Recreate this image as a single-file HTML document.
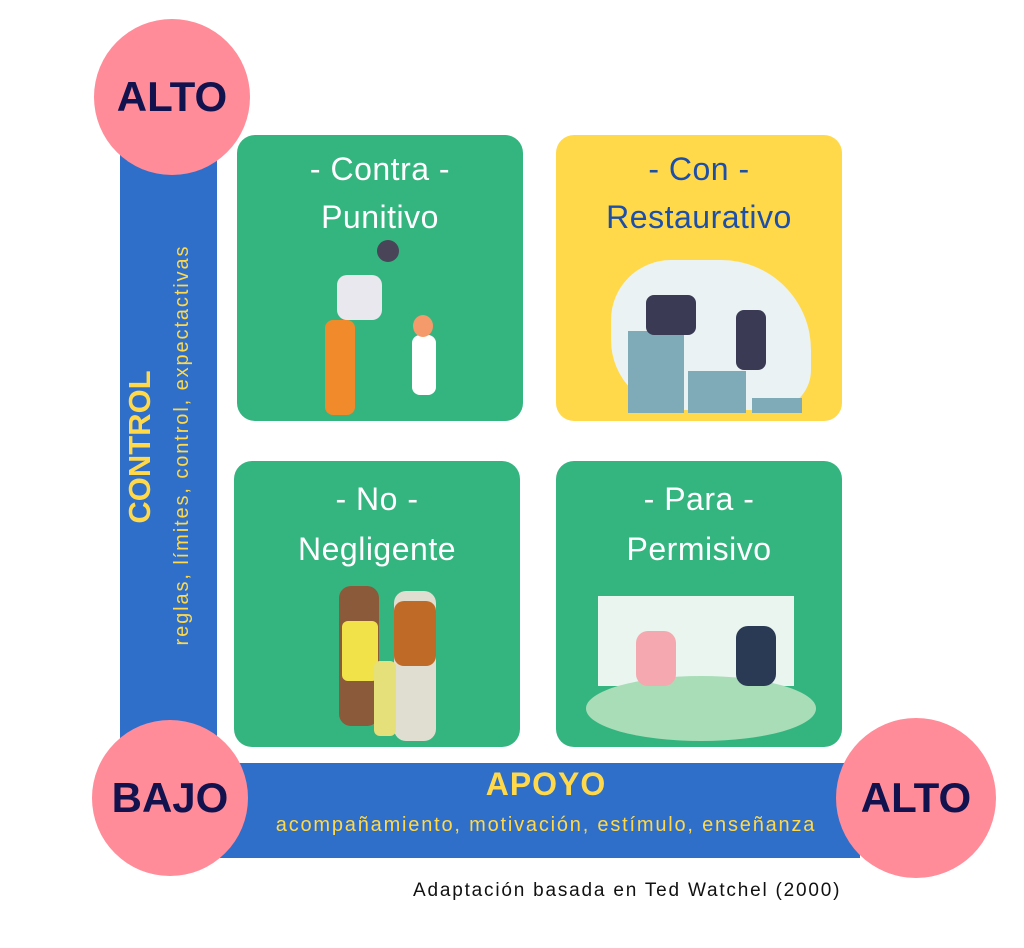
<!DOCTYPE html>
<html><head><meta charset="utf-8"><style>
body{margin:0;width:1024px;height:948px;background:#fff;position:relative;overflow:hidden;font-family:"Liberation Sans",sans-serif}
.a{position:absolute}
.box{position:absolute;width:286px;height:286px;border-radius:18px;background:#34B57F}
.t{position:absolute;left:0;width:100%;text-align:center;font-size:32px;color:#fff;letter-spacing:0.5px}
.circ{position:absolute;width:156px;height:156px;border-radius:50%;background:#FF8C98;color:#12124F;font-weight:bold;font-size:42px;text-align:center;line-height:156px}
</style></head><body>
<div class="a" style="left:120px;top:150px;width:97px;height:615px;background:#2F6FC9"></div>
<div class="a" style="left:220px;top:763px;width:640px;height:95px;background:#2F6FC9"></div>

<div class="box" style="left:237px;top:135px">
 <div class="t" style="top:16px">- Contra -</div><div class="t" style="top:64px">Punitivo</div>
 <div class="a" style="left:140px;top:105px;width:22px;height:22px;border-radius:50%;background:#4a4458"></div>
 <div class="a" style="left:100px;top:140px;width:45px;height:45px;background:#e8e8ee;border-radius:10px"></div>
 <div class="a" style="left:88px;top:185px;width:30px;height:95px;background:#F08A2A;border-radius:8px"></div>
 <div class="a" style="left:175px;top:200px;width:24px;height:60px;background:#fff;border-radius:8px"></div>
 <div class="a" style="left:176px;top:180px;width:20px;height:22px;background:#F59A6A;border-radius:50%"></div>
</div>
<div class="box" style="left:556px;top:135px;background:#FFD94A">
 <div class="t" style="top:16px;color:#1E4FA8">- Con -</div><div class="t" style="top:64px;color:#1E4FA8">Restaurativo</div>
 <div class="a" style="left:55px;top:125px;width:200px;height:150px;background:#EAF2F4;border-radius:60px 90px 40px 70px"></div>
 <div class="a" style="left:72px;top:196px;width:56px;height:82px;background:#7FAAB8"></div>
 <div class="a" style="left:132px;top:236px;width:58px;height:42px;background:#7FAAB8"></div>
 <div class="a" style="left:196px;top:263px;width:50px;height:15px;background:#7FAAB8"></div>
 <div class="a" style="left:90px;top:160px;width:50px;height:40px;background:#3a3a55;border-radius:8px"></div>
 <div class="a" style="left:180px;top:175px;width:30px;height:60px;background:#3a3a55;border-radius:8px"></div>
</div>
<div class="box" style="left:234px;top:461px">
 <div class="t" style="top:20px">- No -</div><div class="t" style="top:70px">Negligente</div>
 <div class="a" style="left:105px;top:125px;width:40px;height:140px;background:#8B5A3A;border-radius:12px"></div>
 <div class="a" style="left:108px;top:160px;width:36px;height:60px;background:#F2E24A;border-radius:6px"></div>
 <div class="a" style="left:160px;top:130px;width:42px;height:150px;background:#E0DED0;border-radius:12px"></div>
 <div class="a" style="left:160px;top:140px;width:42px;height:65px;background:#C06A28;border-radius:10px"></div>
 <div class="a" style="left:140px;top:200px;width:22px;height:75px;background:#E5E07A;border-radius:6px"></div>
</div>
<div class="box" style="left:556px;top:461px">
 <div class="t" style="top:20px">- Para -</div><div class="t" style="top:70px">Permisivo</div>
 <div class="a" style="left:42px;top:135px;width:196px;height:90px;background:#E9F5EE"></div>
 <div class="a" style="left:30px;top:215px;width:230px;height:65px;background:#A8DDB8;border-radius:50%"></div>
 <div class="a" style="left:80px;top:170px;width:40px;height:55px;background:#F5A8B0;border-radius:12px"></div>
 <div class="a" style="left:180px;top:165px;width:40px;height:60px;background:#2a3a55;border-radius:12px"></div>
</div>

<div class="a" style="left:-100px;top:425px;width:480px;height:44px;transform:rotate(-90deg);text-align:center;color:#FFD94A;font-weight:bold;font-size:31px;line-height:44px">CONTROL</div>
<div class="a" style="left:-58px;top:430px;width:480px;height:30px;transform:rotate(-90deg);text-align:center;color:#FFD94A;font-size:20px;letter-spacing:1.9px;line-height:30px">reglas, límites, control, expectactivas</div>

<div class="a" style="left:220px;top:766px;width:652px;text-align:center;color:#FFD94A;font-weight:bold;font-size:32px;letter-spacing:1px">APOYO</div>
<div class="a" style="left:220px;top:814px;width:652px;text-align:center;color:#FFD94A;font-size:20px;letter-spacing:1.8px">acompañamiento, motivación, estímulo, enseñanza</div>

<div class="circ" style="left:94px;top:19px">ALTO</div>
<div class="circ" style="left:92px;top:720px">BAJO</div>
<div class="circ" style="left:836px;top:718px;width:160px;height:160px;line-height:160px">ALTO</div>

<div class="a" style="left:413px;top:880px;width:450px;font-size:19px;letter-spacing:1.8px;color:#111">Adaptación basada en Ted Watchel (2000)</div>
</body></html>
